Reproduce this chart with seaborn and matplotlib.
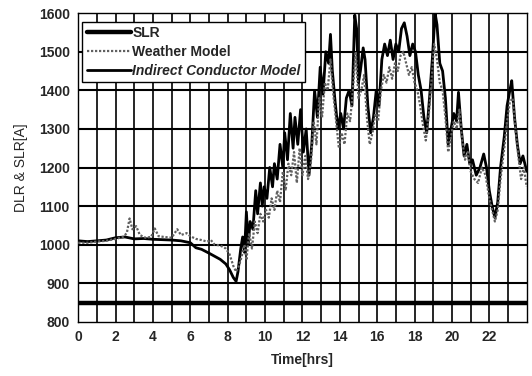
import matplotlib
matplotlib.use("Agg")
import matplotlib.pyplot as plt
import seaborn as sns
import pandas as pd

# ---------------- data ----------------
slr_t = [0, 24]
slr_v = [850, 850]

icm_t = [0, 0.5, 1, 1.5, 2, 2.5, 3, 3.5, 4, 4.5, 5, 5.5, 6, 6.3, 6.6, 7.0, 7.3, 7.6, 7.9, 8.1,
         8.3, 8.45, 8.55, 8.7, 8.8, 8.9, 9.0, 9.1, 9.2, 9.35, 9.5, 9.6, 9.75, 9.85, 9.95, 10.1,
         10.25, 10.4, 10.5, 10.65, 10.8, 10.95, 11.05, 11.2, 11.35, 11.5, 11.6, 11.75, 11.9, 12.05,
         12.2, 12.35, 12.5, 12.65, 12.8, 12.95, 13.1, 13.25, 13.4, 13.5, 13.6, 13.75, 13.9, 14.05,
         14.2, 14.35, 14.5, 14.65, 14.8, 14.9, 15.0, 15.1, 15.25, 15.35, 15.5, 15.65, 15.8, 15.95,
         16.1, 16.25, 16.4, 16.55, 16.7, 16.85, 17.0, 17.15, 17.3, 17.45, 17.6, 17.75, 17.9, 18.05,
         18.2, 18.35, 18.5, 18.65, 18.8, 18.95, 19.1, 19.2, 19.35, 19.5, 19.65, 19.8, 19.95, 20.1,
         20.25, 20.35, 20.5, 20.65, 20.8, 20.95, 21.1, 21.3, 21.5, 21.7, 21.85, 22.0, 22.15, 22.3,
         22.45, 22.6, 22.8, 22.95, 23.1, 23.2, 23.35, 23.5, 23.65, 23.8, 24.0]
icm_v = [1010, 1008, 1010, 1012, 1018, 1020, 1015, 1016, 1014, 1013, 1012, 1010, 1005, 992, 988,
         978, 970, 962, 950, 935, 915, 905, 930, 990, 1020, 980, 1085, 1000, 1060, 1040, 1140, 1080,
         1160, 1100, 1150, 1120, 1200, 1150, 1210, 1170, 1260, 1200, 1290, 1220, 1340, 1250, 1330,
         1260, 1350, 1240, 1300, 1180, 1260, 1400, 1330, 1460, 1390, 1500, 1470, 1545, 1450, 1370,
         1300, 1340, 1300, 1380, 1400, 1360, 1595, 1560, 1420, 1450, 1510, 1480, 1360, 1290, 1330,
         1400, 1360, 1480, 1520, 1490, 1530, 1480, 1520, 1500, 1560, 1575, 1540, 1490, 1520, 1500,
         1440, 1400, 1330, 1290, 1380, 1480, 1600, 1570, 1470, 1450, 1380, 1260, 1300, 1340, 1320,
         1395, 1300, 1230, 1260, 1210, 1220, 1180, 1200, 1235, 1200, 1140, 1100, 1070, 1110, 1200,
         1280, 1360, 1400, 1425, 1330, 1260, 1210, 1230, 1190]

wm_t = [0, 0.5, 1, 1.5, 2, 2.4, 2.6, 2.75, 2.9, 3.1, 3.3, 3.6, 3.9, 4.1, 4.3, 4.6, 5.0, 5.3, 5.5,
        5.8, 6.0, 6.3, 6.6, 6.9, 7.1, 7.3, 7.6, 7.9, 8.1, 8.3, 8.45, 8.6, 8.75, 8.9, 9.0, 9.15,
        9.3, 9.45, 9.6, 9.75, 9.9, 10.05, 10.2, 10.35, 10.5, 10.65, 10.8, 10.95, 11.1, 11.25, 11.4,
        11.55, 11.7, 11.85, 12.0, 12.15, 12.3, 12.45, 12.6, 12.75, 12.9, 13.05, 13.2, 13.35, 13.5,
        13.65, 13.8, 13.95, 14.1, 14.25, 14.4, 14.55, 14.7, 14.85, 15.0, 15.15, 15.3, 15.45, 15.6,
        15.75, 15.9, 16.05, 16.2, 16.35, 16.5, 16.65, 16.8, 16.95, 17.1, 17.25, 17.4, 17.55, 17.7,
        17.85, 18.0, 18.15, 18.3, 18.45, 18.6, 18.75, 18.9, 19.05, 19.2, 19.35, 19.5, 19.65, 19.8,
        19.95, 20.1, 20.25, 20.4, 20.55, 20.7, 20.85, 21.0, 21.2, 21.4, 21.6, 21.8, 22.0, 22.15,
        22.3, 22.45, 22.6, 22.8, 22.95, 23.1, 23.25, 23.4, 23.55, 23.7, 23.85, 24.0]
wm_v = [1005, 1005, 1008, 1010, 1015, 1020, 1030, 1068, 1040, 1048, 1025, 1018, 1020, 1042, 1022,
        1020, 1018, 1040, 1025, 1030, 1022, 1015, 1012, 1008, 1012, 1000, 998, 990, 975, 945, 930,
        945, 970, 1000, 960, 1030, 990, 1060, 1030, 1080, 1060, 1090, 1070, 1120, 1090, 1140, 1110,
        1190, 1140, 1210, 1180, 1240, 1160, 1250, 1180, 1230, 1170, 1210, 1320, 1260, 1380, 1330,
        1420, 1400, 1480, 1390, 1320, 1250, 1290, 1260, 1340, 1320, 1400, 1500, 1380, 1400, 1440,
        1330, 1260, 1290, 1340, 1320, 1400, 1440, 1420, 1460, 1430, 1470, 1450, 1490, 1500, 1470,
        1440, 1460, 1420, 1400, 1360, 1310, 1270, 1330, 1420, 1520, 1480, 1420, 1400, 1330, 1240,
        1280, 1320, 1300, 1350, 1270, 1220, 1240, 1190, 1170, 1160, 1200, 1180, 1120, 1090, 1060,
        1090, 1170, 1250, 1320, 1370, 1380, 1300, 1230, 1170, 1200, 1150]

x_ticks = [0, 2, 4, 6, 8, 10, 12, 14, 16, 18, 20, 22]
y_ticks = [800, 900, 1000, 1100, 1200, 1300, 1400, 1500, 1600]

# ---------------- plot ----------------
sns.set_style("white")
plt.rcParams['font.family'] = ['Liberation Sans Narrow', 'Liberation Sans', 'DejaVu Sans']

fig = plt.figure(figsize=(5.32, 3.76), dpi=100)
ax = fig.add_axes([0.147, 0.144, 0.843, 0.821])

# grid
for h in range(1, 24):
    ax.axvline(h, color='black', lw=1.2, zorder=1)
for yv in range(900, 1600, 100):
    ax.axhline(yv, color='black', lw=1.5, zorder=1)

df_slr = pd.DataFrame({'t': slr_t, 'v': slr_v})
df_icm = pd.DataFrame({'t': icm_t, 'v': icm_v})
df_wm = pd.DataFrame({'t': wm_t, 'v': wm_v})

sns.lineplot(data=df_slr, x='t', y='v', ax=ax, color='black', lw=3.2, label='SLR', zorder=3)
sns.lineplot(data=df_wm, x='t', y='v', ax=ax, color='#606060', lw=1.6, linestyle=(0, (1, 0.8)),
             label='Weather Model', zorder=4)
sns.lineplot(data=df_icm, x='t', y='v', ax=ax, color='black', lw=2.0,
             label='Indirect Conductor Model', zorder=3)

ax.set_xlim(0, 24)
ax.set_ylim(800, 1600)
ax.set_xticks(x_ticks)
ax.set_yticks(y_ticks)
ax.set_xticklabels([str(v) for v in x_ticks], fontsize=10, fontweight='bold')
ax.set_yticklabels([str(v) for v in y_ticks], fontsize=10, fontweight='bold')
ax.tick_params(length=0, pad=6)
ax.set_xlabel('Time[hrs]', fontsize=10, fontweight='bold', labelpad=6)
ax.set_ylabel('DLR & SLR[A]', fontsize=10, labelpad=8)

for s in ax.spines.values():
    s.set_visible(True)
    s.set_color('black')
    s.set_linewidth(1.0)

leg = ax.legend(loc='upper left', bbox_to_anchor=(0.0, 0.985), fontsize=10, frameon=True,
                fancybox=False, edgecolor='black', framealpha=1, handlelength=3.2,
                handletextpad=0.1, borderpad=0.3, labelspacing=0.35, borderaxespad=0.3)
leg.get_frame().set_linewidth(1.0)
texts = leg.get_texts()
texts[0].set_fontweight('bold')
texts[1].set_fontweight('bold')
texts[2].set_fontstyle('italic')
texts[2].set_fontweight('bold')

fig.savefig('out.png', dpi=100)
